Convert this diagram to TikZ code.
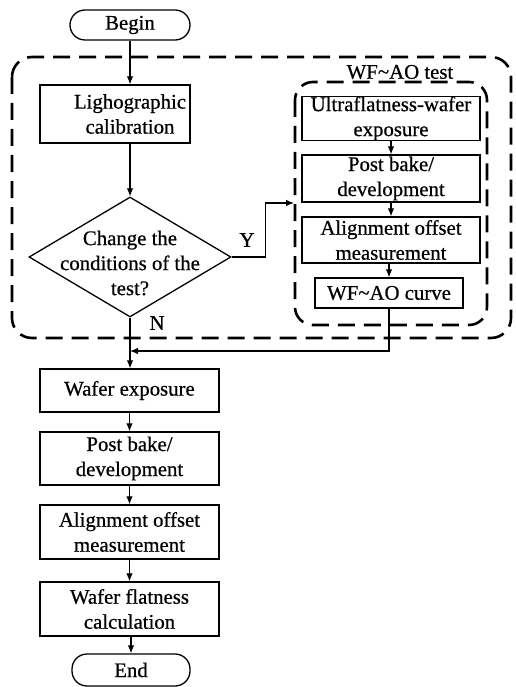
\documentclass[tikz,border=0pt]{standalone}
\usepackage{fontspec}
\setmainfont{Liberation Serif}[FakeBold=0.6]
\usetikzlibrary{arrows.meta,shapes.geometric}
\begin{document}
\begin{tikzpicture}[x=1pt,y=-1pt,
  every node/.style={font=\fontsize{20.8}{25}\selectfont},
  box/.style={draw,line width=1.3pt,inner sep=0pt,align=center},
  term/.style={draw,line width=1.3pt,inner sep=0pt,rounded corners=15pt},
  arrow/.style={line width=1.1pt,-{Latex[length=8pt,width=6.5pt]}},
  group/.style={draw,line width=2.6pt,dash pattern=on 17pt off 9pt,rounded corners=20pt}]
\useasboundingbox (0,0) rectangle (515,687);
% dashed groups
\draw[group] (12,57) rectangle (511,338);
\draw[group,rounded corners=18pt] (295,82) rectangle (487,325);
\node (wfao) at (400,72) {WF\textasciitilde AO test};
% main column
\node[term,minimum width=120pt,minimum height=30pt] (begin) at (130,25) {Begin};
\node[box,minimum width=150pt,minimum height=58pt] (lith) at (115,114) {};
\node[align=center,inner sep=0pt] (lithtxt) at (130,114) {Lighographic\\calibration};
\node[draw,diamond,line width=1.3pt,inner sep=0pt,minimum width=202pt,minimum height=120pt] (dia) at (130,257) {};
\node[align=center,inner sep=0pt] (diatxt) at (130,263) {Change the\\conditions of the\\test?};
\node (ylab) at (247,240) {Y};
\node (nlab) at (157,323) {N};
% inner column
\node[box,minimum width=178pt,minimum height=43pt] (ultra) at (391,118.5) {Ultraflatness-wafer\\exposure};
\node[box,minimum width=178pt,minimum height=47pt] (post2) at (391,178.5) {Post bake/\\development};
\node[box,minimum width=178pt,minimum height=46pt] (align2) at (391,240) {Alignment offset\\measurement};
\node[box,minimum width=148pt,minimum height=30pt] (curve) at (389,293) {WF\textasciitilde AO curve};
% lower column
\node[box,minimum width=179pt,minimum height=43pt] (wexp) at (129.5,390.5) {Wafer exposure};
\node[box,minimum width=179pt,minimum height=53pt] (post) at (129.5,458.5) {Post bake/\\development};
\node[box,minimum width=179pt,minimum height=54pt] (align) at (129.5,532) {Alignment offset\\measurement};
\node[box,minimum width=179pt,minimum height=54pt] (flat) at (129.5,609) {Wafer flatness\\calculation};
\node[term,minimum width=118pt,minimum height=32pt] (end) at (131,670) {End};
% connectors
\coordinate (yin) at (294,203);
\coordinate (fb) at (130,351);
\draw[arrow] (begin.south) -- (begin.south |- lith.north);
\draw[arrow] (dia.north |- lith.south) -- (dia.north);
\draw[arrow] (dia.east) -- ++(34,0) |- (yin);
\draw[arrow] (dia.south) -- (dia.south |- wexp.north);
\draw[arrow] (curve.south) |- (fb);
\draw[arrow] (ultra.south) -- (post2.north);
\draw[arrow] (post2.south) -- (align2.north);
\draw[arrow] (align2.south -| curve.north) -- (curve.north);
\draw[arrow] (wexp.south) -- (post.north);
\draw[arrow] (post.south) -- (align.north);
\draw[arrow] (align.south) -- (flat.north);
\draw[arrow] (flat.south -| end.north) -- (end.north);
\end{tikzpicture}
\end{document}
